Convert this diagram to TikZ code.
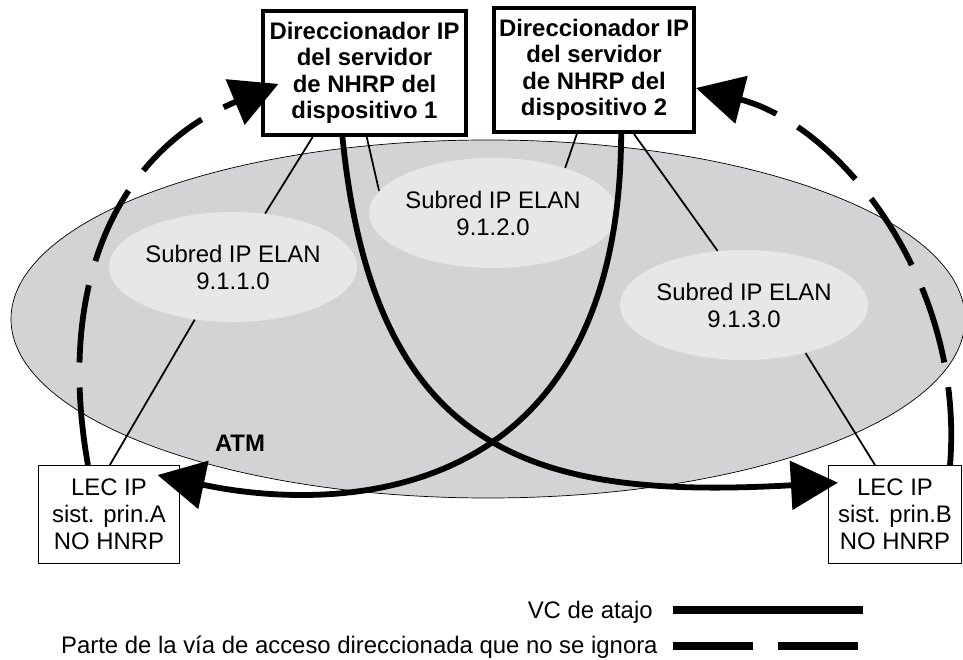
\documentclass[tikz,border=0pt]{standalone}
\usepackage{fontspec}
\setmainfont{Liberation Sans}
\usetikzlibrary{arrows.meta,shapes.geometric}

\definecolor{atmfill}{HTML}{D1D3D4}
\definecolor{elanfill}{HTML}{E6E7E8}

\begin{document}
\begin{tikzpicture}[
        router/.style={draw, line width=2.3pt, fill=white, align=center, inner sep=0pt,
            font=\fontsize{13.6}{15}\selectfont\bfseries, minimum height=2.48cm},
        host/.style={draw, line width=0.6pt, fill=white, align=center, inner sep=0pt,
            font=\fontsize{13.6}{15.4}\selectfont, minimum height=1.96cm},
        subnet/.style={ellipse, fill=elanfill, align=center, inner sep=0pt,
            font=\fontsize{13.6}{15.4}\selectfont, minimum width=4.4cm, minimum height=2.2cm},
        link/.style={line width=1pt},
        vc/.style={line width=3.3pt, -{Triangle[length=0.94cm, width=0.96cm]}},
        routed/.style={vc, dash pattern=on 1.56cm off 0.5cm},
        legend/.style={font=\fontsize{13.6}{15}\selectfont, inner sep=0pt},
        keybar/.style={line width=0.16cm}
    ]
            \useasboundingbox (0,0) rectangle (19.26,13.18);

            % ATM cloud
            \fill[atmfill, draw=black, line width=0.4pt] (9.76,6.80) ellipse [x radius=9.54cm, y radius=3.58cm];
            \node[font=\fontsize{13.6}{15}\selectfont\bfseries] (atm) at (4.8,4.32) {ATM};

            % ELAN subnets
            \node[subnet] (e1) at (4.66,7.84) {Subred IP ELAN\\9.1.1.0};
            \node[subnet] (e2) at (9.86,8.92) {Subred IP ELAN\\9.1.2.0};
            \node[subnet] (e3) at (14.88,7.08) {Subred IP ELAN\\9.1.3.0};

            % NHRP routers
            \node[router, minimum width=4.06cm] (r1) at (7.29,11.72) {Direccionador IP\\del servidor\\de NHRP del\\dispositivo 1};
            \node[router, minimum width=4.0cm] (r2) at (11.88,11.78) {Direccionador IP\\del servidor\\de NHRP del\\dispositivo 2};

            % hosts
            \node[host, minimum width=2.82cm] (la) at (2.18,2.89) {LEC IP\\sist. prin.A\\NO HNRP};
            \node[host, minimum width=2.66cm] (lb) at (17.9,2.89) {LEC IP\\sist. prin.B\\NO HNRP};

            % attachments to the subnets
            \draw[link] (r1.231.7) -- (e1.59);
            \draw[link] (r1.272) -- (e2.169);
            \draw[link] (r2.255) -- (e2.32.5);
            \draw[link] (r2.302.6) -- (e3.116);
            \draw[link] (e1.234) -- (la.89);
            \draw[link] (e3.322) -- (lb.112);

            % shortcut VCs
            \draw[vc, shorten >=-0.2cm] (r1.251.4) .. controls +(0.64,-6.46) and +(-5.76,-0.32) .. (lb.155.5);
            \draw[vc, shorten >=-0.46cm] (r2.293.6) .. controls +(-0.04,-7.72) and +(2.8,-0.6) .. (la.26);

            % routed path
            \draw[routed, shorten >=-0.38cm] (la.113) .. controls +(-0.66,3.7) and +(-2.82,-1.18) .. (r1.190);
            \draw[routed] (lb.42) .. controls +(0.3,3.7) and +(2.86,-0.74) .. (r2.350);

            % legend
            \node[legend, anchor=base east] (keyvc) at (13.06,0.82) {VC de atajo};
            \node[legend, anchor=base east] (keyroute) at (13.16,0.12) {Parte de la vía de acceso direccionada que no se ignora};
            \draw[keybar] ([xshift=0.4cm, yshift=0.16cm]keyvc.base east) -- ++(3.8,0);
            \draw[keybar, dash pattern=on 1.6cm off 0.5cm] ([xshift=0.3cm, yshift=0.14cm]keyroute.base east) -- ++(3.7,0);
        \end{tikzpicture}
\end{document}
